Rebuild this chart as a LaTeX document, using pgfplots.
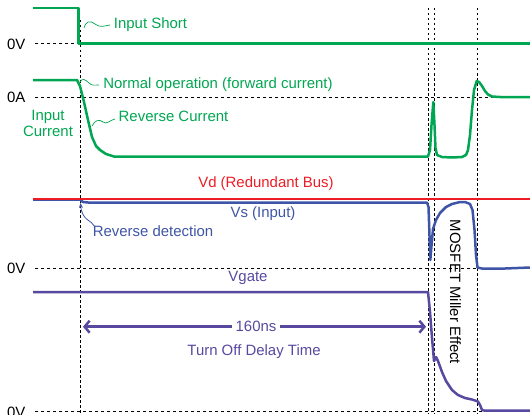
\documentclass[border=0pt]{standalone}
\usepackage{pgfplots}
\pgfplotsset{compat=1.18}
\usepackage{fontspec}
\setmainfont{Liberation Sans}
\usetikzlibrary{arrows.meta}
\definecolor{cgreen}{RGB}{0,166,81}
\definecolor{cred}{RGB}{237,28,36}
\definecolor{cblue}{RGB}{62,84,166}
\definecolor{cpurple}{RGB}{88,72,160}
\begin{document}
\fontsize{15}{17}\selectfont
\begin{tikzpicture}[font=\fontsize{15}{17}\selectfont]
\begin{axis}[
  width=530bp, height=414bp, scale only axis,
  xmin=0, xmax=530, ymin=0, ymax=414, y dir=reverse,
  axis lines=none, clip=false,
]
% reference dashed lines
\draw[black, line width=0.8bp, dash pattern=on 3bp off 3bp] (axis cs:35,43.5) -- (axis cs:530,43.5);
\draw[black, line width=0.8bp, dash pattern=on 3bp off 3bp] (axis cs:35,97) -- (axis cs:530,97);
\draw[black, line width=0.8bp, dash pattern=on 3bp off 3bp] (axis cs:35,268) -- (axis cs:530,268);
\draw[black, line width=0.8bp, dash pattern=on 3bp off 3bp] (axis cs:35,411) -- (axis cs:530,411);
\draw[black, line width=0.8bp, dash pattern=on 2.5bp off 2.5bp] (axis cs:80.3,20) -- (axis cs:80.3,414);
\draw[black, line width=0.8bp, dash pattern=on 2.5bp off 2.5bp] (axis cs:428.3,8) -- (axis cs:428.3,414);
\draw[black, line width=0.8bp, dash pattern=on 2.5bp off 2.5bp] (axis cs:434,8) -- (axis cs:434,414);
\draw[black, line width=0.8bp, dash pattern=on 2.5bp off 2.5bp] (axis cs:477.3,8) -- (axis cs:477.3,414);

% Input short
\addplot[cgreen, line width=2.5bp, line join=round] coordinates {(33,8) (78.5,8) (78.5,43.5) (530,43.5)};
% Input current
\addplot[cgreen, line width=2.5bp, line join=round] coordinates {
(33,80) (77,80) (80,86) (84,102) (88,120) (92,137) (96,146) (100,150) (106,154) (114,156.5)
(428,156.5) (430,150) (431.5,125) (433.3,102) (434.5,125) (435.5,148) (437,155) (442,157) (452,157.5)
(462,157) (466,155) (468,150) (470,135) (472,110) (474,90) (476.7,81) (479,82) (482,86) (485,91) (488,94.5) (492,96.5) (500,97) (530,97)};
% Vs
\addplot[cblue, line width=2.5bp, line join=round] coordinates {
(33,199.5) (80,199.5) (83,202) (88,202.5) (427,202.5) (428.5,207) (429.3,230) (430.3,260) (431.3,248) (433,229)
(436,220) (440,213) (446,207) (452,204) (460,202) (465,202) (470,204) (472.5,210) (474.5,230) (476,255) (477.5,267.5)
(482,268.5) (505,268.5) (530,267.5)};
% Vd
\addplot[cred, line width=2.5bp] coordinates {(33,199) (530,199)};
% Vgate
\addplot[cpurple, line width=2.5bp, line join=round] coordinates {
(33,292) (428,292) (430,312) (432,338) (434,361) (436,357) (438,361) (442,372) (446,381) (452,390) (458,395)
(465,398) (472,399.5) (478,401.5) (480,405) (482,410) (484,410.5) (530,410.5)};

% labels
\node[anchor=east] at (axis cs:30.5,44) {0V};
\node[anchor=east] at (axis cs:30.5,97) {0A};
\node[anchor=east] at (axis cs:30.5,268) {0V};
\node[anchor=east] at (axis cs:30.5,412) {0V};

\node[cgreen] at (axis cs:150.5,25) {Input Short};
\draw[cgreen, line width=0.7bp] (axis cs:84,28) .. controls (axis cs:86,21) and (axis cs:90,20) .. (axis cs:95,24) .. controls (axis cs:100,28) and (axis cs:104,26) .. (axis cs:110,25);
\node[cgreen] at (axis cs:218,85) {Normal operation (forward current)};
\draw[cgreen, line width=0.7bp] (axis cs:80,82) .. controls (axis cs:82,78) and (axis cs:85,79) .. (axis cs:89,83) .. controls (axis cs:92,86) and (axis cs:95,85) .. (axis cs:99,85);
\node[cgreen] at (axis cs:173.5,116) {Reverse Current};
\draw[cgreen, line width=0.7bp] (axis cs:92,126) .. controls (axis cs:95,120) and (axis cs:99,119) .. (axis cs:103,122) .. controls (axis cs:107,125) and (axis cs:110,120) .. (axis cs:115,119);
\node[cgreen, align=center, inner sep=0pt, font=\fontsize{15}{17}\selectfont] at (axis cs:48,123.5) {Input\\[-1pt]Current};

\node[cred] at (axis cs:266,183.5) {Vd (Redundant Bus)};
\node[cblue] at (axis cs:263,214) {Vs (Input)};
\node[cblue] at (axis cs:153,231) {Reverse detection};
\draw[cblue, line width=0.8bp, -{Stealth[length=5bp,width=4bp]}] (axis cs:95,227) .. controls (axis cs:92,220) and (axis cs:82,221) .. (axis cs:80.5,203);
\node[cpurple] at (axis cs:248,277.5) {Vgate};

\draw[cpurple, line width=2.5bp, -{Straight Barb[length=5bp,width=12bp]}] (axis cs:232,326.7) -- (axis cs:83,326.7);
\draw[cpurple, line width=2.5bp, -{Straight Barb[length=5bp,width=12bp]}] (axis cs:280,326.7) -- (axis cs:426,326.7);
\node[cpurple] at (axis cs:256,326.7) {160ns};
\node[cpurple] at (axis cs:254,352) {Turn Off Delay Time};

\node[black, rotate=-90] at (axis cs:455.5,292) {MOSFET Miller Effect};
\end{axis}
\pgfresetboundingbox
\path[use as bounding box] (current axis.south west) rectangle (current axis.north east);
\end{tikzpicture}
\end{document}
